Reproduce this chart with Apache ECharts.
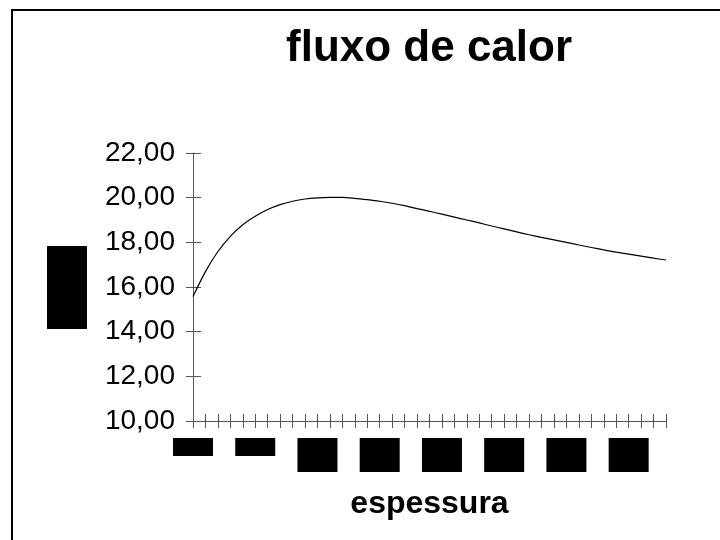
<!DOCTYPE html>
<html>
<head>
<meta charset="utf-8">
<script src="https://cdn.jsdelivr.net/npm/echarts@6.0.0/dist/echarts.min.js"></script>
<style>
  html, body { margin: 0; padding: 0; background: #fff; }
  #chart { width: 720px; height: 540px; }
</style>
</head>
<body>
<div id="chart"></div>
<script>
// espessura (categorias do eixo x)
var espessura = [
  '0,000', '0,001', '0,002', '0,003', '0,004', '0,005', '0,006', '0,007', '0,008', '0,009',
  '0,010', '0,011', '0,012', '0,013', '0,014', '0,015', '0,016', '0,017', '0,018', '0,019',
  '0,020', '0,021', '0,022', '0,023', '0,024', '0,025', '0,026', '0,027', '0,028', '0,029',
  '0,030', '0,031', '0,032', '0,033', '0,034', '0,035', '0,036', '0,037', '0,038'
];
// fluxo de calor
var fluxo = [
  15.57, 16.69, 17.59, 18.27, 18.79, 19.17, 19.47, 19.69, 19.84, 19.94,
  19.99, 20.01, 20.01, 19.97, 19.91, 19.84, 19.75, 19.64, 19.51, 19.39,
  19.26, 19.13, 19.00, 18.87, 18.73, 18.60, 18.47, 18.34, 18.22, 18.11,
  18.00, 17.88, 17.77, 17.66, 17.56, 17.47, 17.38, 17.29, 17.21
];
var yMin = 10, yMax = 22, yStep = 2;

var chart = echarts.init(document.getElementById('chart'));

var fonte = 'Liberation Sans, Arial, sans-serif';
var cor = '#555';
var gridL = 193, gridR = 54, gridT = 153, gridB = 119;

option = {
    animation: false,
    backgroundColor: '#fff',
    title: {
        text: 'fluxo de calor',
        left: 286,
        top: 27,
        padding: 0,
        textStyle: {
            fontFamily: fonte,
            fontSize: 44,
            fontWeight: 'bold',
            color: '#000'
        }
    },
    grid: {
        left: gridL,
        right: gridR,
        top: gridT,
        bottom: gridB
    },
    graphic: [
        {
            type: 'rect',
            shape: { x: 12, y: 10, width: 800, height: 700 },
            style: { fill: 'none', stroke: '#000', lineWidth: 2 },
            silent: true
        },
        {
            // titulo do eixo y (aparece como bloco preto)
            type: 'text',
            left: 47,
            top: 246,
            style: {
                text: '{b|q}',
                rich: {
                    b: {
                        width: 40,
                        height: 83,
                        backgroundColor: '#000',
                        color: '#000',
                        fontSize: 10
                    }
                }
            }
        }
    ],
    xAxis: [
        {
            type: 'category',
            data: espessura,
            boundaryGap: false,
            position: 'bottom',
            name: 'espessura',
            nameLocation: 'middle',
            nameGap: 67,
            nameTextStyle: {
                fontFamily: fonte,
                fontSize: 32,
                fontWeight: 'bold',
                color: '#000'
            },
            axisLine: { lineStyle: { color: cor, width: 1 } },
            axisTick: { interval: 0, length: 7, lineStyle: { color: cor } },
            axisLabel: {
                interval: 4,
                margin: 17,
                formatter: function (v, i) {
                    return i < 10 ? '{s|' + v + '}' : '{t|' + v + '}';
                },
                rich: {
                    s: { width: 40, height: 18, backgroundColor: '#000', color: '#000', fontSize: 10, align: 'center' },
                    t: { width: 40, height: 34, backgroundColor: '#000', color: '#000', fontSize: 10, align: 'center' }
                }
            },
            splitLine: { show: false }
        },
        {
            // copia no topo, deslocada para baixo: tracos para cima
            type: 'category',
            data: espessura,
            boundaryGap: false,
            position: 'top',
            offset: -(540 - gridT - gridB),
            axisLine: { show: true, lineStyle: { color: 'rgba(0,0,0,0)' } },
            axisTick: { show: true, interval: 0, length: 7, lineStyle: { color: cor } },
            axisLabel: { show: false },
            splitLine: { show: false }
        }
    ],
    yAxis: [
        {
            type: 'value',
            min: yMin,
            max: yMax,
            interval: yStep,
            position: 'left',
            axisLine: { show: true, lineStyle: { color: cor, width: 1 } },
            axisTick: { show: true, length: 7, lineStyle: { color: cor } },
            axisLabel: {
                margin: 18,
                fontFamily: fonte,
                fontSize: 28,
                color: '#000',
                formatter: function (v) {
                    return v.toFixed(2).replace('.', ',');
                }
            },
            splitLine: { show: false }
        },
        {
            // copia a direita, deslocada ate o eixo esquerdo: tracos para dentro
            type: 'value',
            min: yMin,
            max: yMax,
            interval: yStep,
            position: 'right',
            offset: -(720 - gridL - gridR),
            axisLine: { show: true, lineStyle: { color: 'rgba(0,0,0,0)' } },
            axisTick: { show: true, length: 8, lineStyle: { color: cor } },
            axisLabel: { show: false },
            splitLine: { show: false }
        }
    ],
    series: [
        {
            type: 'line',
            data: fluxo,
            xAxisIndex: 0,
            yAxisIndex: 0,
            symbol: 'none',
            smooth: 0.3,
            lineStyle: { color: '#000', width: 1.2 }
        }
    ]
};
chart.setOption(option);
</script>
</body>
</html>
